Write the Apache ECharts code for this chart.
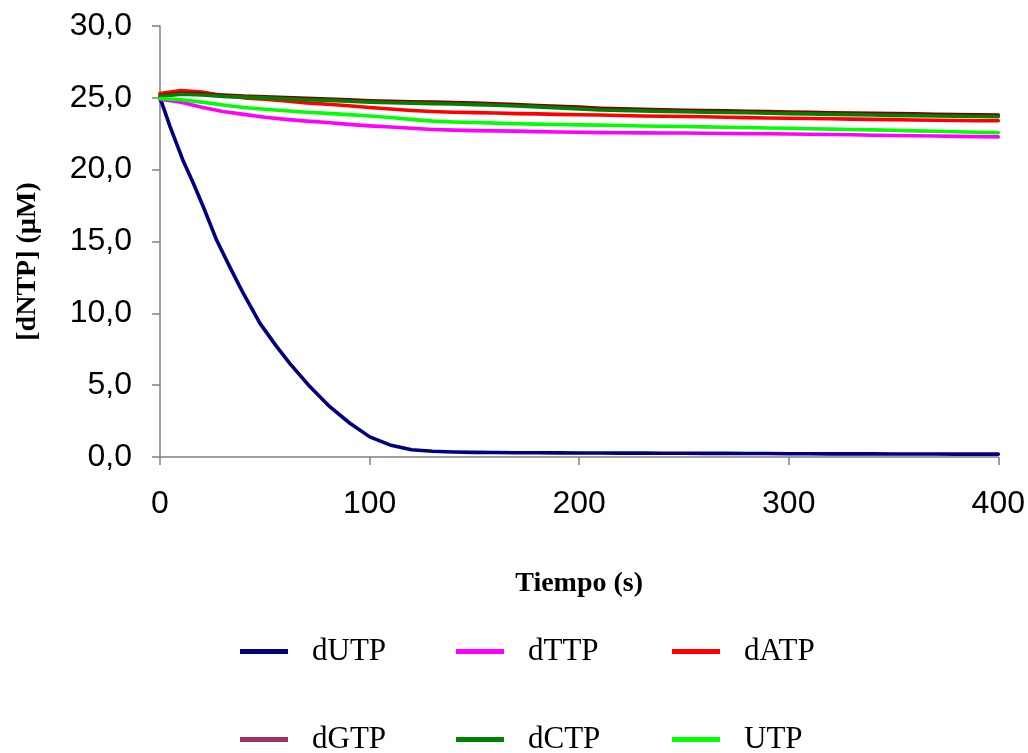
<!DOCTYPE html>
<html>
<head>
<meta charset="utf-8">
<script src="https://cdn.jsdelivr.net/npm/echarts@6/dist/echarts.min.js"></script>
<style>html,body{margin:0;padding:0;background:#fff}#c{width:1028px;height:753px}</style>
</head>
<body>
<div id="c"></div>
<script>
const seriesNames = ['dUTP','dTTP','dATP','dGTP','dCTP','UTP'];
const timeS = [0,10,20,30,40,50,60,70,80,90,100,110,120,130,140,150,160,170,180,190,200,210,220,230,240,250,260,270,280,290,300,310,320,330,340,350,360,370,380,390,400];
const dUTPearlyT = [0,1,4.8,11.1,15.9,20.7,27,33.4,39.7,47.7,55.6,62,71.5,81,90.6,100.1,109.7,120];
const dUTPearlyV = [24.9,24.6,23.0,20.6,19.05,17.4,15.1,13.2,11.4,9.3,7.7,6.5,4.9,3.5,2.35,1.4,0.84,0.5];
const dUTP = [24.9,21.0,17.65,14.3,11.3,8.85,6.85,5.15,3.65,2.4,1.45,0.85,0.5,0.4,0.35,0.32,0.31,0.3,0.3,0.29,0.28,0.28,0.27,0.27,0.26,0.26,0.25,0.25,0.24,0.24,0.23,0.23,0.22,0.22,0.22,0.21,0.21,0.21,0.2,0.2,0.2];
const dTTP = [24.9,24.7,24.35,24.05,23.85,23.65,23.5,23.38,23.28,23.15,23.05,22.97,22.88,22.8,22.75,22.72,22.7,22.68,22.65,22.62,22.6,22.58,22.57,22.56,22.55,22.55,22.53,22.52,22.5,22.5,22.48,22.47,22.45,22.43,22.4,22.38,22.36,22.34,22.32,22.3,22.28];
const dATP = [25.3,25.5,25.4,25.15,25.0,24.9,24.78,24.65,24.55,24.45,24.33,24.22,24.12,24.05,24.0,23.97,23.94,23.9,23.88,23.85,23.82,23.8,23.77,23.74,23.72,23.7,23.68,23.65,23.62,23.6,23.58,23.56,23.54,23.52,23.5,23.48,23.46,23.44,23.42,23.41,23.4];
const dGTP = [25.15,25.32,25.28,25.2,25.12,25.08,25.02,24.97,24.92,24.86,24.8,24.76,24.73,24.7,24.67,24.63,24.58,24.53,24.47,24.41,24.35,24.28,24.24,24.2,24.17,24.14,24.11,24.09,24.07,24.04,24.01,23.99,23.96,23.94,23.92,23.9,23.88,23.86,23.84,23.82,23.8];
const dCTP = [25.1,25.25,25.2,25.1,25.05,25.0,24.93,24.87,24.82,24.76,24.7,24.66,24.63,24.6,24.57,24.53,24.48,24.43,24.37,24.3,24.23,24.15,24.12,24.09,24.06,24.03,24.0,23.98,23.96,23.93,23.9,23.88,23.85,23.83,23.8,23.78,23.76,23.74,23.72,23.7,23.68];
const UTP = [24.95,24.87,24.7,24.5,24.33,24.2,24.1,24.0,23.92,23.83,23.73,23.63,23.5,23.38,23.32,23.28,23.24,23.2,23.17,23.14,23.12,23.1,23.07,23.04,23.02,23.0,22.98,22.95,22.93,22.9,22.88,22.85,22.82,22.8,22.77,22.74,22.7,22.67,22.64,22.6,22.57];
const xTicks = [0,100,200,300,400];
const yTicks = [0,5,10,15,20,25,30];

const colors = {dUTP:'#000080', dTTP:'#FF00FF', dATP:'#FF0000', dGTP:'#800000', dCTP:'#008000', UTP:'#00FF00'};
const legendColors = {dUTP:'#000080', dTTP:'#FF00FF', dATP:'#FF0000', dGTP:'#993366', dCTP:'#008000', UTP:'#00FF00'};
const values = {dTTP, dATP, dGTP, dCTP, UTP};

function pairs(arr){ return timeS.map((t,i)=>[t,arr[i]]); }
const dUTPdata = dUTPearlyT.map((t,i)=>[t,dUTPearlyV[i]])
  .concat(timeS.map((t,i)=>[t,dUTP[i]]).filter(p=>p[0]>120));

const series = seriesNames.map(n => ({
  name: n, type: 'line', showSymbol: false, symbol: 'none',
  data: n === 'dUTP' ? dUTPdata : pairs(values[n]),
  lineStyle: {color: colors[n], width: 3.6, join: 'round', cap: 'round'},
  itemStyle: {color: legendColors[n]},
  animation: false
}));

const legendPos = [[240,636],[456,636],[672,636],[240,724],[456,724],[672,724]];
const legends = seriesNames.map((n,i) => ({
  data: [{name: n, itemStyle:{color: legendColors[n]}}],
  left: legendPos[i][0], top: legendPos[i][1], padding: 0,
  icon: 'rect', itemWidth: 48, itemHeight: 5,
  textStyle: {fontFamily: 'Liberation Serif', fontSize: 31, color: '#000', padding: [0,0,0,19], lineHeight: 31},
  selectedMode: false
}));

const chart = echarts.init(document.getElementById('c'), null, {renderer: 'canvas'});
chart.setOption({
  backgroundColor: '#fff',
  animation: false,
  grid: {left: 160, right: 29, top: 26, bottom: 296},
  legend: legends,
  xAxis: {
    type: 'value', min: xTicks[0], max: xTicks[xTicks.length-1], interval: 100,
    name: 'Tiempo (s)', nameLocation: 'middle', nameGap: 113,
    nameTextStyle: {fontFamily: 'Liberation Serif', fontWeight: 'bold', fontSize: 28, color: '#000'},
    axisLine: {lineStyle: {color: '#808080', width: 1.5}},
    axisTick: {show: true, inside: false, length: 8, lineStyle: {color: '#808080', width: 1.5}},
    axisLabel: {margin: 31, fontFamily: 'Liberation Sans', fontSize: 32, color: '#000'},
    splitLine: {show: false}
  },
  yAxis: {
    type: 'value', min: yTicks[0], max: yTicks[yTicks.length-1], interval: 5,
    name: '[dNTP] (µM)', nameLocation: 'middle', nameGap: 118, nameRotate: 90,
    nameTextStyle: {fontFamily: 'Liberation Serif', fontWeight: 'bold', fontSize: 28, color: '#000', padding: [0, 40, 0, 0]},
    axisLine: {show: true, lineStyle: {color: '#808080', width: 1.5}},
    axisTick: {show: true, inside: false, length: 8, lineStyle: {color: '#808080', width: 1.5}},
    axisLabel: {margin: 28, fontFamily: 'Liberation Sans', fontSize: 32, color: '#000',
      formatter: v => v.toFixed(1).replace('.', ',')},
    splitLine: {show: false}
  },
  series: series
});
</script>
</body>
</html>
